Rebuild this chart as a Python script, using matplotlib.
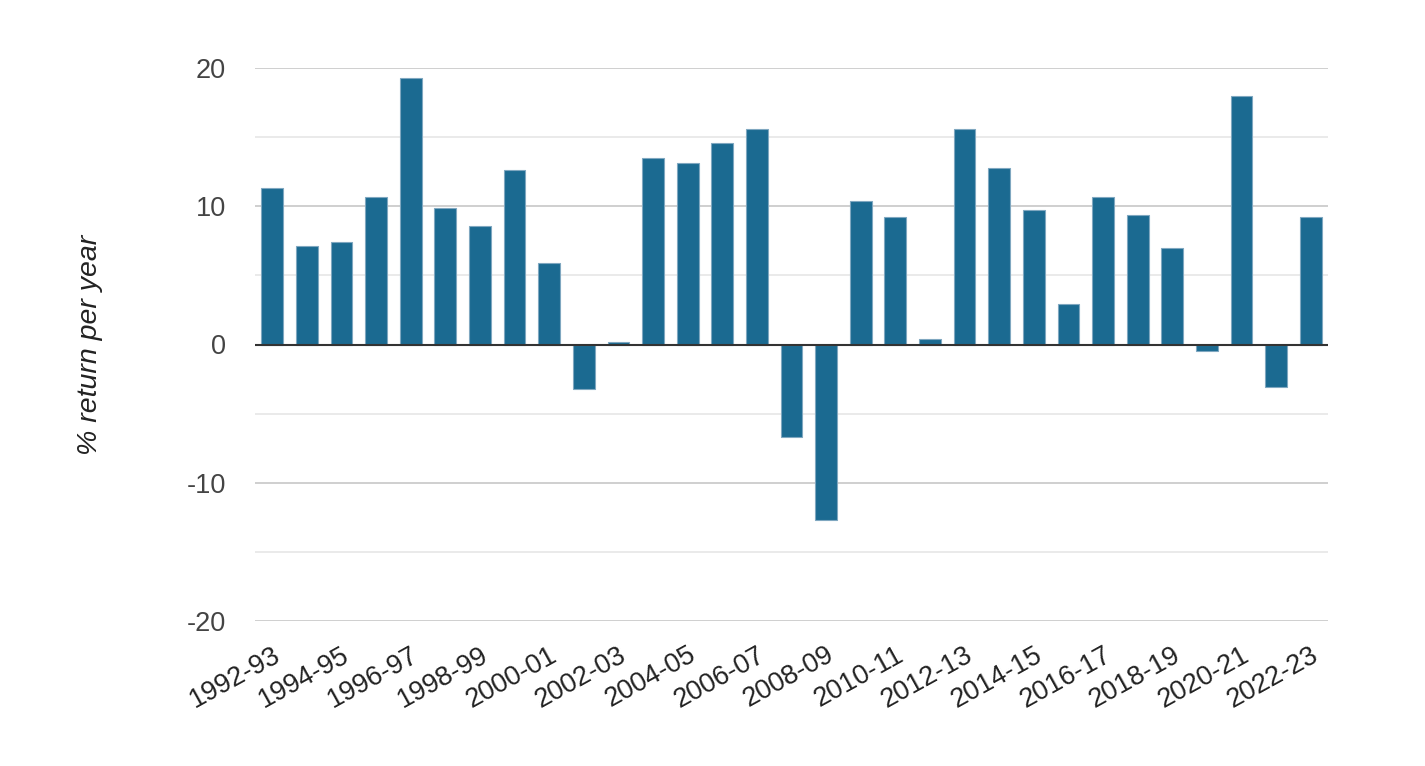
import matplotlib
matplotlib.use("Agg")
import matplotlib.pyplot as plt
from matplotlib.ticker import MultipleLocator

years = [f"{y}-{str(y+1)[-2:]}" for y in range(1992, 2023)]
returns = [11.3, 7.1, 7.4, 10.7, 19.3, 9.9, 8.6, 12.6, 5.9, -3.2, 0.2,
           13.5, 13.1, 14.6, 15.6, -6.7, -12.7, 10.4, 9.2, 0.4, 15.6,
           12.8, 9.7, 2.9, 10.7, 9.4, 7.0, -0.5, 18.0, -3.1, 9.2]

plt.rcParams['font.family'] = ['Liberation Sans', 'DejaVu Sans']

fig = plt.figure(figsize=(14.25, 7.66), dpi=100)
ax = fig.add_axes([255/1425, 1 - 621/766, (1328-255)/1425, (621-68)/766])

x = list(range(len(years)))
ax.bar(x, returns, width=0.63, color='#1b6a91', edgecolor='#7fa7c0', linewidth=0.8, zorder=3)

ax.set_xlim(-0.5, len(years) - 0.5)
ax.set_ylim(-20, 20)
ax.yaxis.set_major_locator(MultipleLocator(10))
ax.yaxis.set_minor_locator(MultipleLocator(5))
ax.grid(axis='y', which='major', color='#cccccc', linewidth=1.3, zorder=0)
ax.grid(axis='y', which='minor', color='#e8e8e8', linewidth=1.3, zorder=0)
ax.axhline(0, color='#333333', linewidth=1.5, zorder=4)

for s in ax.spines.values():
    s.set_visible(False)

ax.set_xticks(x[::2])
ax.set_xticklabels(years[::2], rotation=29, ha='right', rotation_mode='anchor',
                   fontsize=19.5, color='#222222')
ax.tick_params(axis='x', length=0, pad=15)
ax.tick_params(axis='y', which='both', length=0, pad=21, labelsize=19.5, labelcolor='#444444')
ax.set_yticks([-20, -10, 0, 10, 20])
ax.set_yticklabels(['-20', '-10', '0', '10', '20'])

ax.set_ylabel('% return per year', fontsize=20.5, style='italic', color='#222222', labelpad=60)

fig.savefig('out.png', dpi=100)
